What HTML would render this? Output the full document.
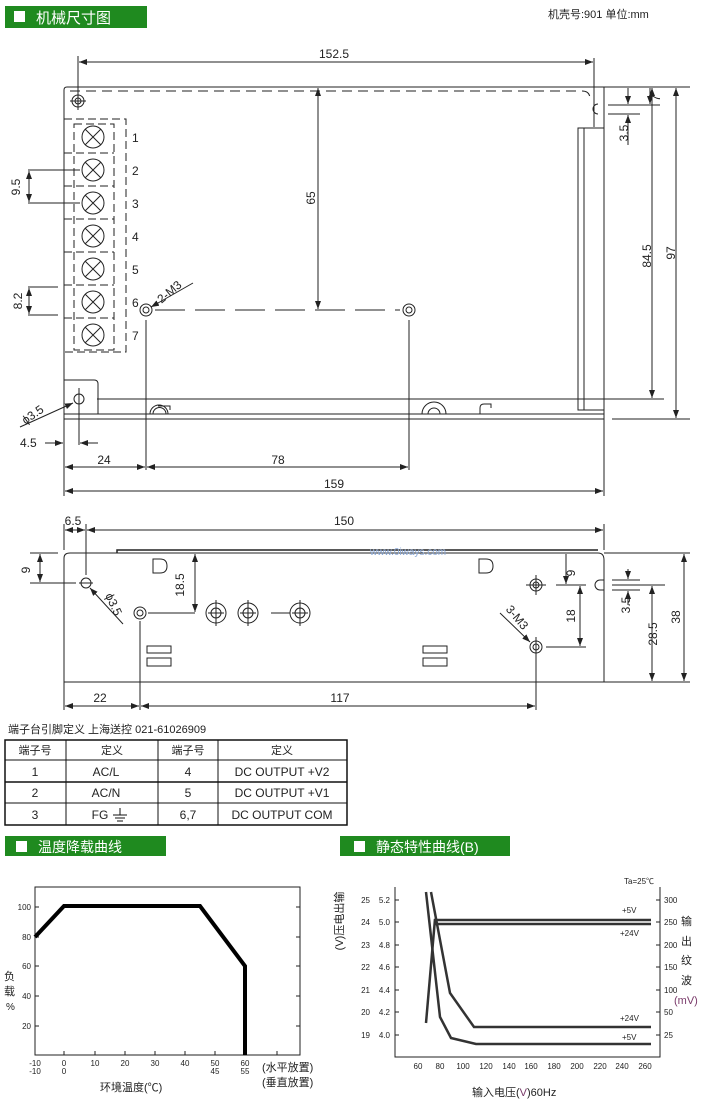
<!DOCTYPE html>
<html><head><meta charset="utf-8"><style>
body{margin:0;background:#fff}
svg{display:block}
text{font-family:"Liberation Sans","Noto Sans CJK SC",sans-serif;fill:#222}
</style></head><body>
<svg width="704" height="1105" viewBox="0 0 704 1105" xmlns="http://www.w3.org/2000/svg">
<defs>
<marker id="a" markerWidth="8" markerHeight="6" refX="8" refY="3" orient="auto-start-reverse" markerUnits="userSpaceOnUse"><path d="M0,0 L8,3 L0,6z" fill="#222"/></marker>
</defs>
<!-- header -->
<rect x="5" y="6" width="142" height="22" fill="#1f8a1f"/>
<rect x="14" y="11" width="11" height="11" fill="#fff"/>
<text x="36" y="23" font-size="15" style="fill:#fff">机械尺寸图</text>
<text x="548" y="18" font-size="11">机壳号:901   单位:mm</text>

<g stroke="#222" stroke-width="1" fill="none">
<!-- top view -->
<line x1="78" y1="56" x2="78" y2="100"/><line x1="594" y1="58" x2="594" y2="100"/>
<line x1="79" y1="62" x2="593" y2="62" marker-start="url(#a)" marker-end="url(#a)"/>
<path d="M64,419 L64,90 Q64,87 67,87 L604,87 L604,419 Z"/>
<path d="M70,91 L582,91 Q590,91 590,99" stroke-dasharray="10,6"/>
<circle cx="78" cy="101" r="6"/><circle cx="78" cy="101" r="3"/>
<line x1="78" y1="93" x2="78" y2="110"/><line x1="70" y1="101" x2="86" y2="101"/>
<path d="M598,104 A5,5 0 1 0 598,114"/>
<line x1="594" y1="100" x2="594" y2="127"/>
<!-- terminal block -->
<rect x="64" y="119" width="62" height="233" stroke-dasharray="8,4"/>
<rect x="74" y="124" width="40" height="226" stroke-dasharray="8,4"/>
<g>
<circle cx="93" cy="137" r="11"/><path d="M85,129 L101,145 M101,129 L85,145"/>
<circle cx="93" cy="170" r="11"/><path d="M85,162 L101,178 M101,162 L85,178"/>
<circle cx="93" cy="203" r="11"/><path d="M85,195 L101,211 M101,195 L85,211"/>
<circle cx="93" cy="236" r="11"/><path d="M85,228 L101,244 M101,228 L85,244"/>
<circle cx="93" cy="269" r="11"/><path d="M85,261 L101,277 M101,261 L85,277"/>
<circle cx="93" cy="302" r="11"/><path d="M85,294 L101,310 M101,294 L85,310"/>
<circle cx="93" cy="335" r="11"/><path d="M85,327 L101,343 M101,327 L85,343"/>
</g>
<path d="M64,153 H114 M64,186 H114 M64,219 H114 M64,252 H114 M64,285 H114 M64,318 H114" stroke-dasharray="8,4"/>
<!-- 9.5 / 8.2 -->
<line x1="28" y1="170" x2="80" y2="170"/><line x1="28" y1="203" x2="80" y2="203"/>
<line x1="29" y1="171" x2="29" y2="202" marker-start="url(#a)" marker-end="url(#a)"/>
<line x1="28" y1="287" x2="58" y2="287"/><line x1="28" y1="315" x2="58" y2="315"/>
<line x1="29" y1="288" x2="29" y2="314" marker-start="url(#a)" marker-end="url(#a)"/>
<!-- M3 holes -->
<circle cx="146" cy="310" r="6"/><circle cx="146" cy="310" r="3"/>
<circle cx="409" cy="310" r="6"/><circle cx="409" cy="310" r="3"/>
<line x1="155" y1="310" x2="400" y2="310" stroke-dasharray="30,10"/>
<line x1="318" y1="88" x2="318" y2="309" marker-start="url(#a)" marker-end="url(#a)"/>
<line x1="193" y1="283" x2="151" y2="307" marker-end="url(#a)"/>
<line x1="146" y1="320" x2="146" y2="470"/><line x1="409" y1="320" x2="409" y2="470"/>
<!-- heat sink bar -->
<rect x="578" y="128" width="26" height="282"/><line x1="584" y1="128" x2="584" y2="410"/>
<!-- bottom plates -->
<line x1="97" y1="399" x2="664" y2="399"/>
<line x1="64" y1="414" x2="604" y2="414"/>
<path d="M64,380 H94 Q98,380 98,384 V414"/>
<circle cx="79" cy="399" r="5"/>
<line x1="79" y1="388" x2="79" y2="445"/>
<path d="M150,414 A9,9 0 0 1 168,414 M153,414 A6,6 0 0 1 166,414 M158,406 H170 V410"/>
<path d="M422,414 A12,12 0 0 1 446,414 M428,414 A6,6 0 0 1 440,414"/>
<path d="M480,414 V408 Q480,404 484,404 H491 V408"/>
<line x1="20" y1="427" x2="73" y2="403" marker-end="url(#a)"/>
<line x1="45" y1="443" x2="63" y2="443" marker-end="url(#a)"/>
<line x1="98" y1="443" x2="80" y2="443" marker-end="url(#a)"/>
<!-- right dims -->
<line x1="604" y1="87" x2="690" y2="87"/>
<line x1="608" y1="105" x2="660" y2="105"/><line x1="608" y1="114" x2="640" y2="114"/>
<line x1="605" y1="399" x2="664" y2="399"/><line x1="612" y1="419" x2="690" y2="419"/>
<line x1="650" y1="88" x2="650" y2="104" marker-end="url(#a)"/>
<line x1="628" y1="88" x2="628" y2="104" marker-end="url(#a)"/>
<line x1="628" y1="145" x2="628" y2="115" marker-end="url(#a)"/>
<line x1="652" y1="88" x2="652" y2="398" marker-start="url(#a)" marker-end="url(#a)"/>
<line x1="676" y1="88" x2="676" y2="418" marker-start="url(#a)" marker-end="url(#a)"/>
<!-- bottom dims -->
<line x1="64" y1="419" x2="64" y2="496"/><line x1="604" y1="419" x2="604" y2="496"/>
<line x1="65" y1="467" x2="145" y2="467" marker-start="url(#a)" marker-end="url(#a)"/>
<line x1="147" y1="467" x2="408" y2="467" marker-start="url(#a)" marker-end="url(#a)"/>
<line x1="65" y1="491" x2="603" y2="491" marker-start="url(#a)" marker-end="url(#a)"/>

<!-- side view -->
<line x1="64" y1="524" x2="64" y2="550"/><line x1="86" y1="524" x2="86" y2="575"/><line x1="604" y1="524" x2="604" y2="550"/>
<line x1="65" y1="530" x2="85" y2="530" marker-start="url(#a)" marker-end="url(#a)"/>
<line x1="87" y1="530" x2="603" y2="530" marker-start="url(#a)" marker-end="url(#a)"/>
<path d="M64,682 V558 Q64,553 70,553 H598 Q604,553 604,560 V682 Z"/>
<path d="M117,553 V550 H598" stroke-width="1.5"/>
<line x1="30" y1="553" x2="58" y2="553"/><line x1="30" y1="583" x2="76" y2="583"/>
<line x1="40" y1="554" x2="40" y2="582" marker-start="url(#a)" marker-end="url(#a)"/>
<circle cx="86" cy="583" r="5"/><line x1="79" y1="583" x2="93" y2="583"/>
<line x1="123" y1="624" x2="90" y2="588" marker-end="url(#a)"/>
<circle cx="140" cy="613" r="6"/><circle cx="140" cy="613" r="3"/>
<line x1="148" y1="613" x2="195" y2="613"/>
<line x1="140" y1="621" x2="140" y2="710"/>
<line x1="195" y1="554" x2="195" y2="612" marker-start="url(#a)" marker-end="url(#a)"/>
<circle cx="216" cy="613" r="10"/><circle cx="216" cy="613" r="5"/>
<circle cx="248" cy="613" r="10"/><circle cx="248" cy="613" r="5"/>
<circle cx="300" cy="613" r="10"/><circle cx="300" cy="613" r="5"/>
<path d="M208,613 H224 M240,613 H256 M271,613 H290 M292,613 H308 M216,600 V626 M248,600 V626 M300,600 V626"/>
<path d="M153,559 H160 Q167,559 167,566 Q167,573 160,573 H153 Z"/>
<path d="M479,559 H486 Q493,559 493,566 Q493,573 486,573 H479 Z"/>
<rect x="147" y="646" width="24" height="7"/><rect x="147" y="658" width="24" height="8"/>
<rect x="423" y="646" width="24" height="7"/><rect x="423" y="658" width="24" height="8"/>
<circle cx="536" cy="585" r="6"/><circle cx="536" cy="585" r="3"/>
<circle cx="536" cy="647" r="6"/><circle cx="536" cy="647" r="3"/>
<path d="M536,575 V595 M526,585 H546 M536,637 V710"/>
<line x1="500" y1="613" x2="530" y2="642" marker-end="url(#a)"/>
<line x1="556" y1="585" x2="586" y2="585"/><line x1="546" y1="647" x2="586" y2="647"/>
<line x1="580" y1="586" x2="580" y2="646" marker-start="url(#a)" marker-end="url(#a)"/>
<line x1="566" y1="554" x2="566" y2="584" marker-end="url(#a)"/>
<path d="M604,580 H600 A5,5 0 0 0 600,590 H604"/>
<line x1="612" y1="580" x2="640" y2="580"/><line x1="612" y1="590" x2="640" y2="590"/><line x1="612" y1="585" x2="665" y2="585"/>
<line x1="604" y1="553" x2="690" y2="553"/><line x1="604" y1="682" x2="690" y2="682"/>
<line x1="628" y1="569" x2="628" y2="579" marker-end="url(#a)"/>
<line x1="628" y1="605" x2="628" y2="591" marker-end="url(#a)"/>
<line x1="652" y1="586" x2="652" y2="681" marker-start="url(#a)" marker-end="url(#a)"/>
<line x1="684" y1="554" x2="684" y2="681" marker-start="url(#a)" marker-end="url(#a)"/>
<line x1="64" y1="682" x2="64" y2="710"/>
<line x1="65" y1="706" x2="139" y2="706" marker-start="url(#a)" marker-end="url(#a)"/>
<line x1="141" y1="706" x2="535" y2="706" marker-start="url(#a)" marker-end="url(#a)"/>
</g>
<text x="334" y="58" font-size="12" text-anchor="middle">152.5</text>
<g font-size="12">
<text x="132" y="142">1</text><text x="132" y="175">2</text><text x="132" y="208">3</text><text x="132" y="241">4</text><text x="132" y="274">5</text><text x="132" y="307">6</text><text x="132" y="340">7</text>
</g>
<text transform="translate(20,187) rotate(-90)" font-size="12" text-anchor="middle">9.5</text>
<text transform="translate(22,301) rotate(-90)" font-size="12" text-anchor="middle">8.2</text>
<text transform="translate(315,198) rotate(-90)" font-size="12" text-anchor="middle">65</text>
<text transform="translate(172,295) rotate(-40)" font-size="12" text-anchor="middle">2-M3</text>
<text transform="translate(628,133) rotate(-90)" font-size="12" text-anchor="middle">3.5</text>
<text transform="translate(660,98) rotate(-90)" font-size="12" text-anchor="middle">7</text>
<text transform="translate(651,256) rotate(-90)" font-size="12" text-anchor="middle">84.5</text>
<text transform="translate(675,253) rotate(-90)" font-size="12" text-anchor="middle">97</text>
<text transform="translate(35,418) rotate(-35)" font-size="12" text-anchor="middle">ϕ3.5</text>
<text x="20" y="447" font-size="12">4.5</text>
<text x="104" y="464" font-size="12" text-anchor="middle">24</text>
<text x="278" y="464" font-size="12" text-anchor="middle">78</text>
<text x="334" y="488" font-size="12" text-anchor="middle">159</text>

<text x="73" y="525" font-size="12" text-anchor="middle">6.5</text>
<text x="344" y="525" font-size="12" text-anchor="middle">150</text>
<text x="370" y="555" font-size="10" style="fill:#8aa8d8">www.0iways.com</text>
<text transform="translate(30,570) rotate(-90)" font-size="12" text-anchor="middle">9</text>
<text transform="translate(110,606) rotate(65)" font-size="12" text-anchor="middle">ϕ3.5</text>
<text transform="translate(184,585) rotate(-90)" font-size="12" text-anchor="middle">18.5</text>
<text transform="translate(514,620) rotate(50)" font-size="12" text-anchor="middle">3-M3</text>
<text transform="translate(575,573) rotate(-90)" font-size="12" text-anchor="middle">9</text>
<text transform="translate(575,616) rotate(-90)" font-size="12" text-anchor="middle">18</text>
<text transform="translate(630,605) rotate(-90)" font-size="12" text-anchor="middle">3.5</text>
<text transform="translate(657,634) rotate(-90)" font-size="12" text-anchor="middle">28.5</text>
<text transform="translate(680,617) rotate(-90)" font-size="12" text-anchor="middle">38</text>
<text x="100" y="702" font-size="12" text-anchor="middle">22</text>
<text x="340" y="702" font-size="12" text-anchor="middle">117</text>

<!-- table -->
<text x="8" y="733" font-size="11">端子台引脚定义   上海送控 021-61026909</text>
<g stroke="#111" fill="none">
<rect x="5" y="740" width="342" height="85" stroke-width="1.5"/>
<line x1="5" y1="760" x2="347" y2="760"/><line x1="5" y1="782" x2="347" y2="782" stroke-width="1.5"/><line x1="5" y1="803" x2="347" y2="803"/>
<line x1="66" y1="740" x2="66" y2="825"/><line x1="158" y1="740" x2="158" y2="825"/><line x1="218" y1="740" x2="218" y2="825"/>
<path d="M120,808 V815 M113,815 H127 M115,818 H125 M117,821 H123"/>
</g>
<g font-size="12" text-anchor="middle">
<text x="35" y="754" font-size="11">端子号</text><text x="112" y="754" font-size="11">定义</text><text x="188" y="754" font-size="11">端子号</text><text x="282" y="754" font-size="11">定义</text>
<text x="35" y="776">1</text><text x="106" y="776">AC/L</text><text x="188" y="776">4</text><text x="282" y="776">DC OUTPUT +V2</text>
<text x="35" y="797">2</text><text x="106" y="797">AC/N</text><text x="188" y="797">5</text><text x="282" y="797">DC OUTPUT +V1</text>
<text x="35" y="819">3</text><text x="100" y="819">FG</text><text x="188" y="819">6,7</text><text x="282" y="819">DC OUTPUT COM</text>
</g>

<!-- chart headers -->
<rect x="5" y="836" width="161" height="20" fill="#1f8a1f"/>
<rect x="16" y="841" width="11" height="11" fill="#fff"/>
<text x="38" y="852" font-size="14" style="fill:#fff">温度降载曲线</text>
<rect x="340" y="836" width="170" height="20" fill="#1f8a1f"/>
<rect x="354" y="841" width="11" height="11" fill="#fff"/>
<text x="376" y="852" font-size="14" style="fill:#fff">静态特性曲线(B)</text>

<!-- left chart -->
<g stroke="#222" fill="none">
<rect x="35" y="887" width="265" height="168"/>
<path d="M35,907 h4 M35,937 h4 M35,966 h4 M35,996 h4 M35,1026 h4 M300,907 h-4 M300,937 h-4 M300,966 h-4 M300,996 h-4 M300,1026 h-4"/>
<path d="M64,1055 v-4 M95,1055 v-4 M125,1055 v-4 M155,1055 v-4 M185,1055 v-4 M215,1055 v-4 M245,1055 v-4 M277,1055 v-4"/>
<path d="M35,937 L64,906 L200,906 L245,966 L245,1055" stroke-width="4" stroke="#000"/>
</g>
<g font-size="8" text-anchor="end">
<text x="31" y="910">100</text><text x="31" y="940">80</text><text x="31" y="969">60</text><text x="31" y="999">40</text><text x="31" y="1029">20</text>
</g>
<g font-size="8" text-anchor="middle">
<text x="35" y="1066">-10</text><text x="35" y="1074">-10</text><text x="64" y="1066">0</text><text x="64" y="1074">0</text>
<text x="95" y="1066">10</text><text x="125" y="1066">20</text><text x="155" y="1066">30</text><text x="185" y="1066">40</text>
<text x="215" y="1066">50</text><text x="215" y="1074">45</text><text x="245" y="1066">60</text><text x="245" y="1074">55</text>
</g>
<text x="262" y="1071" font-size="11">(水平放置)</text>
<text x="262" y="1086" font-size="11">(垂直放置)</text>
<text x="100" y="1091" font-size="11">环境温度(℃)</text>
<text x="4" y="980" font-size="11">负</text><text x="4" y="995" font-size="11">载</text><text x="6" y="1010" font-size="10">%</text>

<!-- right chart -->
<g stroke="#222" fill="none">
<path d="M395,887 V1057 H660 V887"/>
<path d="M395,900 h4 M395,922 h4 M395,945 h4 M395,967 h4 M395,990 h4 M395,1012 h4 M395,1035 h4"/>
<path d="M660,900 h-4 M660,922 h-4 M660,945 h-4 M660,967 h-4 M660,990 h-4 M660,1012 h-4 M660,1035 h-4"/>
<g stroke-width="2.5" stroke="#333">
<path d="M426,892 L440,1017 L451,1038 L476,1044 L651,1044"/>
<path d="M431,892 L450,993 L474,1027 L651,1027"/>
<path d="M426,1023 L435,919"/>
<path d="M434,920 H651"/><path d="M434,924 H651"/>
</g>
</g>
<g font-size="8" text-anchor="end">
<text x="370" y="903">25</text><text x="370" y="925">24</text><text x="370" y="948">23</text><text x="370" y="970">22</text><text x="370" y="993">21</text><text x="370" y="1015">20</text><text x="370" y="1038">19</text>
<text x="390" y="903">5.2</text><text x="390" y="925">5.0</text><text x="390" y="948">4.8</text><text x="390" y="970">4.6</text><text x="390" y="993">4.4</text><text x="390" y="1015">4.2</text><text x="390" y="1038">4.0</text>
</g>
<g font-size="8">
<text x="664" y="903">300</text><text x="664" y="925">250</text><text x="664" y="948">200</text><text x="664" y="970">150</text><text x="664" y="993">100</text><text x="664" y="1015">50</text><text x="664" y="1038">25</text>
</g>
<g font-size="8" text-anchor="middle">
<text x="418" y="1069">60</text><text x="440" y="1069">80</text><text x="463" y="1069">100</text><text x="486" y="1069">120</text><text x="509" y="1069">140</text><text x="531" y="1069">160</text><text x="554" y="1069">180</text><text x="577" y="1069">200</text><text x="600" y="1069">220</text><text x="622" y="1069">240</text><text x="645" y="1069">260</text>
</g>
<g font-size="8">
<text x="622" y="913">+5V</text><text x="620" y="936">+24V</text><text x="620" y="1021">+24V</text><text x="622" y="1040">+5V</text>
<text x="624" y="884">Ta=25℃</text>
</g>
<text transform="translate(343,921) rotate(-90)" font-size="11" text-anchor="middle">(V)压电出输</text>
<g font-size="11"><text x="681" y="925">输</text><text x="681" y="945">出</text><text x="681" y="964">纹</text><text x="681" y="984">波</text><text x="674" y="1004" style="fill:#7a3a6a">(mV)</text></g>
<text x="472" y="1096" font-size="11">输入电压(<tspan style="fill:#7a3a6a">V</tspan>)60Hz</text>
</svg>
</body></html>
